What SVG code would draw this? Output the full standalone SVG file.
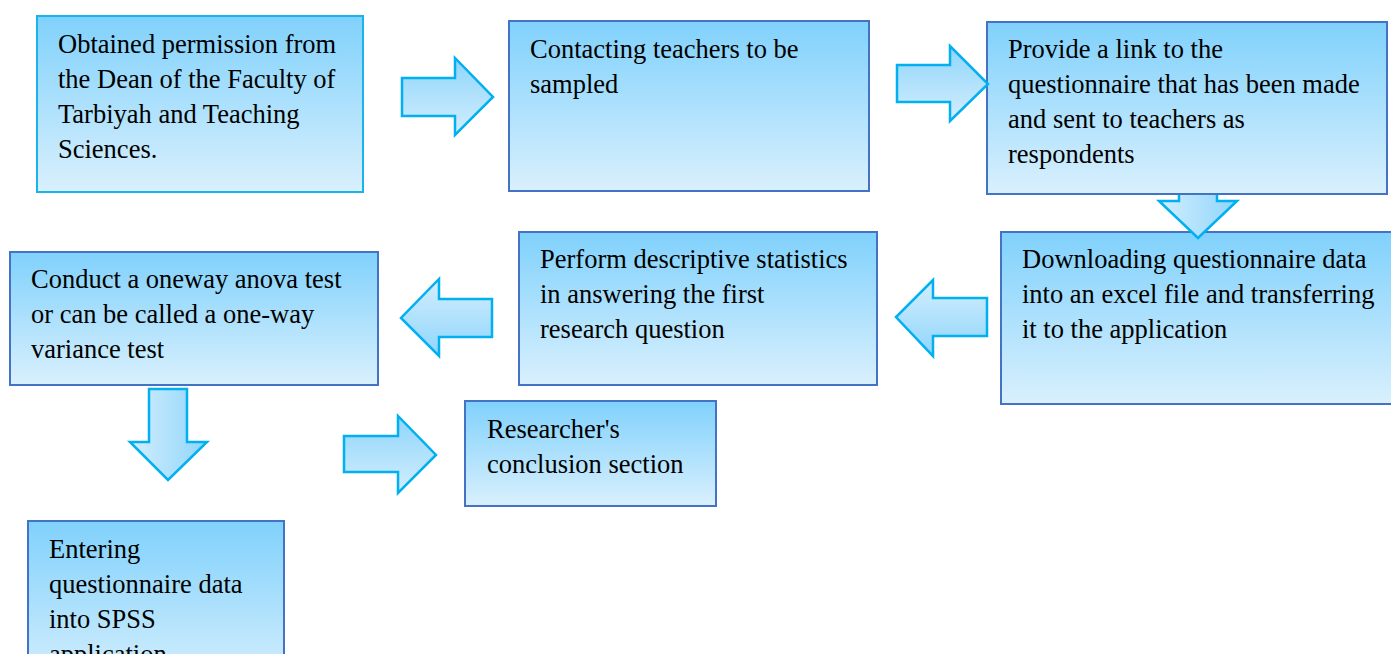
<svg xmlns="http://www.w3.org/2000/svg" width="1391" height="654" viewBox="0 0 1391 654">
<defs>
<linearGradient id="boxg" x1="0" y1="0" x2="0" y2="1">
<stop offset="0" stop-color="#80D1FC"/>
<stop offset="1" stop-color="#D9F0FD"/>
</linearGradient>
<linearGradient id="arrR" x1="0" y1="0" x2="0" y2="1">
<stop offset="0" stop-color="#8FD5FB"/>
<stop offset="1" stop-color="#D3EEFD"/>
</linearGradient>
<linearGradient id="arrL" x1="0" y1="0" x2="0" y2="1">
<stop offset="0" stop-color="#D3EEFD"/>
<stop offset="1" stop-color="#8FD5FB"/>
</linearGradient>
<linearGradient id="arrD" x1="0" y1="0" x2="1" y2="0">
<stop offset="0" stop-color="#D3EEFD"/>
<stop offset="1" stop-color="#8FD5FB"/>
</linearGradient>
<style>
.box{fill:url(#boxg);stroke:#4472C4;stroke-width:2}
.box.cyan{stroke:#1AB3EE}
.t{font-family:"Liberation Serif","Times New Roman",serif;font-size:26.5px;fill:#000}
.ar{stroke:#00B0F0;stroke-width:2.5;stroke-linejoin:miter}
</style>
</defs>
<rect width="1391" height="654" fill="#FFFFFF"/>

<g id="n1">
<rect class="box cyan" x="37" y="16" width="326" height="176"/>
<text class="t" x="58" y="53">Obtained permission from</text>
<text class="t" x="58" y="88">the Dean of the Faculty of</text>
<text class="t" x="58" y="123">Tarbiyah and Teaching</text>
<text class="t" x="58" y="158">Sciences.</text>
</g>

<g id="n2">
<rect class="box" x="509" y="21" width="360" height="170"/>
<text class="t" x="530" y="58">Contacting teachers to be</text>
<text class="t" x="530" y="93">sampled</text>
</g>

<g id="n3">
<rect class="box" x="987" y="22" width="400" height="172"/>
<text class="t" x="1008" y="58">Provide a link to the</text>
<text class="t" x="1008" y="93">questionnaire that has been made</text>
<text class="t" x="1008" y="128">and sent to teachers as</text>
<text class="t" x="1008" y="163">respondents</text>
</g>

<g id="n4">
<rect class="box" x="1001" y="232" width="400" height="172"/>
<text class="t" x="1022" y="268">Downloading questionnaire data</text>
<text class="t" x="1022" y="303">into an excel file and transferring</text>
<text class="t" x="1022" y="338">it to the application</text>
</g>

<g id="n5">
<rect class="box" x="519" y="232" width="358" height="153"/>
<text class="t" x="540" y="268">Perform descriptive statistics</text>
<text class="t" x="540" y="303">in answering the first</text>
<text class="t" x="540" y="338">research question</text>
</g>

<g id="n6">
<rect class="box" x="10" y="252" width="368" height="133"/>
<text class="t" x="31" y="288">Conduct a oneway anova test</text>
<text class="t" x="31" y="323">or can be called a one-way</text>
<text class="t" x="31" y="358">variance test</text>
</g>

<g id="n7">
<rect class="box" x="28" y="521" width="256" height="170"/>
<text class="t" x="49" y="558">Entering</text>
<text class="t" x="49" y="593">questionnaire data</text>
<text class="t" x="49" y="628">into SPSS</text>
<text class="t" x="49" y="663">application</text>
</g>

<g id="n8">
<rect class="box" x="465" y="401" width="251" height="105"/>
<text class="t" x="487" y="438">Researcher's</text>
<text class="t" x="487" y="473">conclusion section</text>
</g>

<g id="connectors">
<polygon class="ar" fill="url(#arrR)" points="402,78 455,78 455,58 493,97 455,135 455,116 402,116"/>
<polygon class="ar" fill="url(#arrR)" points="897,65 950,65 950,46 988,84 950,121 950,102 897,102"/>
<polygon fill="url(#arrD)" points="1179,195 1217,195 1217,201 1237,201 1198,238 1159,201 1179,201"/>
<polyline points="1217,195 1217,201 1237,201 1198,238 1159,201 1179,201 1179,195" fill="none" stroke="#00B0F0" stroke-width="2.5"/>
<polygon class="ar" fill="url(#arrL)" points="987,298 933,298 933,280 896,317 933,356 933,336 987,336"/>
<polygon class="ar" fill="url(#arrL)" points="492,299 439,299 439,279 401,318 439,356 439,337 492,337"/>
<polygon class="ar" fill="url(#arrD)" points="149,389 187,389 187,442 207,442 168,480 130,442 149,442"/>
<polygon class="ar" fill="url(#arrR)" points="344,436 398,436 398,416 436,455 398,493 398,472 344,472"/>
</g>
</svg>
